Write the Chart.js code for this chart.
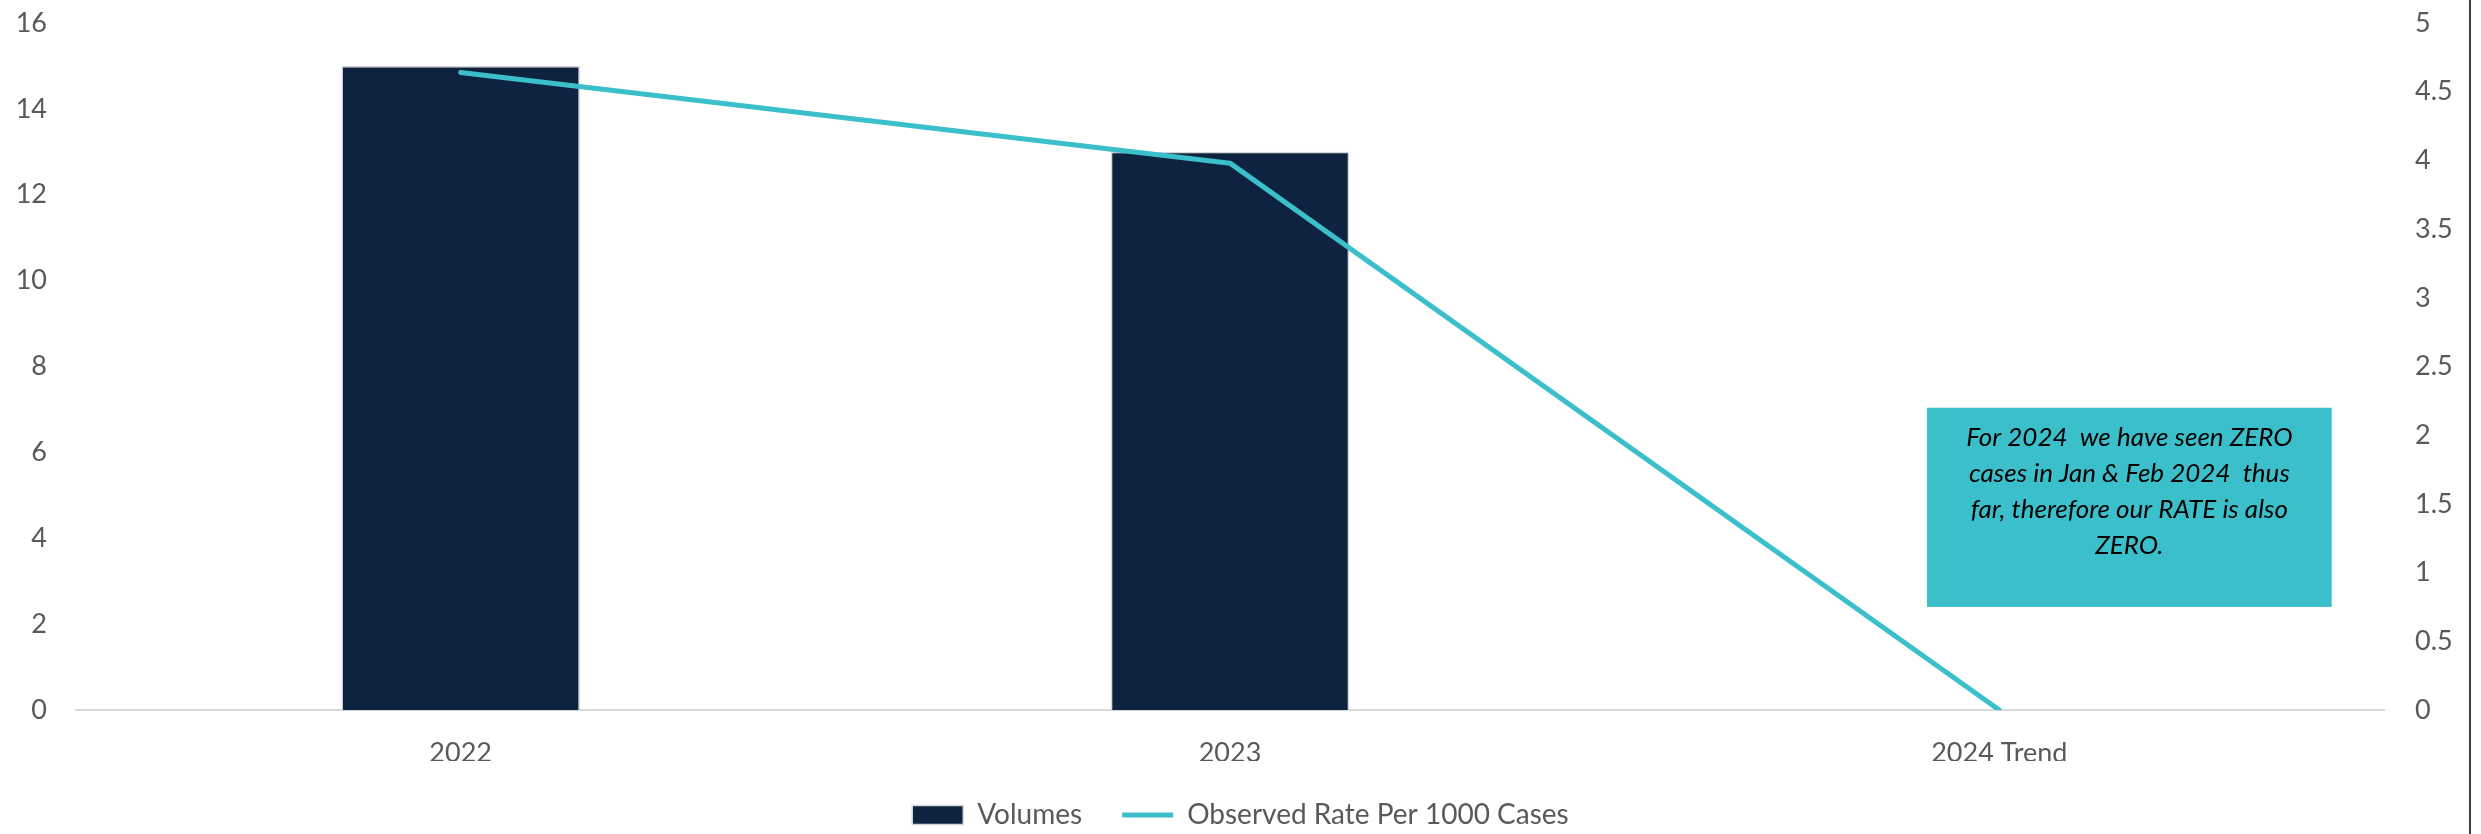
<!DOCTYPE html>
<html>
<head>
<meta charset="utf-8">
<script src="https://cdn.jsdelivr.net/npm/chart.js@4.4.1/dist/chart.umd.min.js"></script>
<style>
  html, body { margin: 0; padding: 0; background: #ffffff; overflow: hidden; }
  #wrap { width: 2481px; height: 834px; position: relative; overflow: hidden; }
  canvas { display: block; }
</style>
</head>
<body>
<div id="wrap"><canvas id="chart" width="2481" height="839"></canvas></div>
<script>
const years = ['2022', '2023', '2024 Trend'];
const volumes = [15, 13, 0];
const observedRate = [4.64, 3.98, 0];
const volumeTicks = [0, 2, 4, 6, 8, 10, 12, 14, 16];
const rateTicks = [0, 0.5, 1, 1.5, 2, 2.5, 3, 3.5, 4, 4.5, 5];
const noteLines = [
    'For 2024  we have seen ZERO',
    'cases in Jan & Feb 2024  thus',
    'far, therefore our RATE is also',
    'ZERO.'
];
// note box in data units: category index offsets and right-axis values
const noteX = [2 - 0.094, 2 + 0.432];
const noteY = [2.2, 0.75];

const navy = '#0E2340';
const teal = '#3BC0CB';
const tickGrey = '#595959';
const fontFamily = 'Lato, "Open Sans", sans-serif';

const notePlugin = {
    id: 'noteBox',
    afterDatasetsDraw(chart) {
        const ctx = chart.ctx;
        const x = chart.scales.x;
        const y2 = chart.scales.y2;
        const step = x.getPixelForValue(1) - x.getPixelForValue(0);
        const x0 = x.getPixelForValue(2) + (noteX[0] - 2) * step;
        const x1 = x.getPixelForValue(2) + (noteX[1] - 2) * step;
        const top = y2.getPixelForValue(noteY[0]);
        const bottom = y2.getPixelForValue(noteY[1]);

        ctx.save();
        ctx.fillStyle = teal;
        ctx.fillRect(x0, top, x1 - x0, bottom - top);
        ctx.fillStyle = '#000000';
        ctx.font = 'italic 26px ' + fontFamily;
        ctx.textAlign = 'center';
        ctx.textBaseline = 'middle';
        noteLines.forEach((line, i) => {
            ctx.fillText(line, (x0 + x1) / 2, top + 30 + i * 36);
        });
        ctx.restore();
    },
    afterDraw(chart) {
        // right frame edge
        const ctx = chart.ctx;
        ctx.save();
        ctx.strokeStyle = '#3a3a3a';
        ctx.lineWidth = 2;
        ctx.beginPath();
        ctx.moveTo(chart.width - 11, 0);
        ctx.lineTo(chart.width - 11, chart.height);
        ctx.stroke();
        ctx.restore();
    }
};

function fitSide(width) {
    return function(scale) {
        scale.width = width;
        scale.paddingTop = 23;
        scale.paddingBottom = 0;
    };
}

const ctx = document.getElementById('chart').getContext('2d');
const chart = new Chart(ctx, {
    type: 'bar',
    data: {
        labels: years,
        datasets: [{
            label: 'Volumes',
            data: volumes,
            backgroundColor: navy,
            borderColor: '#D6D6D6',
            borderWidth: 1.5,
            pointStyle: 'rect',
            categoryPercentage: 1,
            barPercentage: 0.31,
            yAxisID: 'y',
            order: 2
        }, {
            type: 'line',
            label: 'Observed Rate Per 1000 Cases',
            data: observedRate,
            borderColor: teal,
            backgroundColor: teal,
            borderWidth: 5,
            borderCapStyle: 'round',
            borderJoinStyle: 'round',
            pointRadius: 0,
            pointHoverRadius: 0,
            pointStyle: 'line',
            pointBorderColor: teal,
            pointBorderWidth: 5,
            tension: 0,
            yAxisID: 'y2',
            order: 1
        }]
    },
    options: {
        responsive: false,
        animation: false,
        layout: {
            padding: 0
        },
        plugins: {
            tooltip: { enabled: false },
            legend: {
                display: true,
                position: 'bottom',
                labels: {
                    usePointStyle: true,
                    pointStyleWidth: 51,
                    boxHeight: 19,
                    padding: 40,
                    color: tickGrey,
                    font: { family: fontFamily, size: 28 },
                    sort: (a, b) => a.datasetIndex - b.datasetIndex
                }
            }
        },
        scales: {
            x: {
                grid: { display: false, drawTicks: false },
                border: { display: true, color: '#D9D9D9', width: 2 },
                ticks: {
                    color: tickGrey,
                    padding: 27,
                    font: { family: fontFamily, size: 27 }
                },
                afterFit(scale) { scale.height = 51; }
            },
            y: {
                position: 'left',
                min: 0,
                max: 16,
                afterBuildTicks(scale) { scale.ticks = volumeTicks.map(v => ({ value: v })); },
                grid: { display: false, drawTicks: false },
                border: { display: false },
                ticks: {
                    color: tickGrey,
                    padding: 29,
                    font: { family: fontFamily, size: 27 },
                    callback: v => String(v)
                },
                afterFit: fitSide(76)
            },
            y2: {
                position: 'right',
                min: 0,
                max: 5,
                afterBuildTicks(scale) { scale.ticks = rateTicks.map(v => ({ value: v })); },
                grid: { display: false, drawTicks: false },
                border: { display: false },
                ticks: {
                    color: tickGrey,
                    padding: 31,
                    font: { family: fontFamily, size: 27 },
                    callback: v => String(v)
                },
                afterFit: fitSide(97)
            }
        }
    },
    plugins: [notePlugin]
});
</script>
</body>
</html>
